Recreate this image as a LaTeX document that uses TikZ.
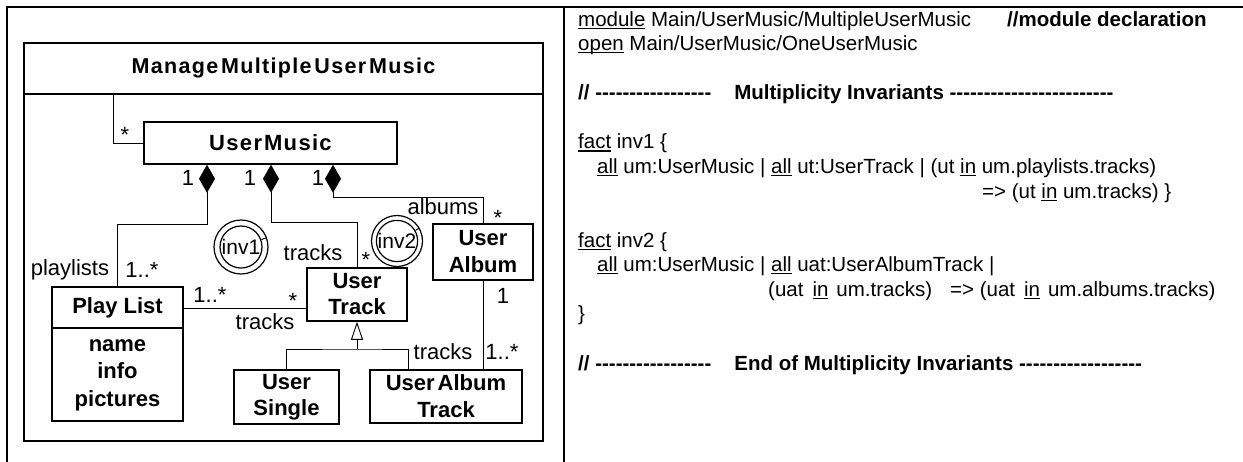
\documentclass[tikz,border=0pt]{standalone}
\usepackage{fontspec}
\setmainfont{Liberation Sans}
\newfontfamily\spacedfont[LetterSpace=6]{Liberation Sans}
\usetikzlibrary{arrows.meta}
\newcommand\undl[1]{\setbox0\hbox{#1}\rlap{\rule[-2.6pt]{\wd0}{1.1pt}}\box0\relax}
\newcommand\dashrow[1]{\foreach\k in {1,...,#1}{-\kern0pt}}
\newcommand\clsfont{\fontsize{22}{26}\selectfont\bfseries}
\newcommand\lblfont{\fontsize{22}{26}\selectfont}
\newcommand\codefont{\fontsize{20.5}{24.6}\selectfont}
\begin{document}
\begin{tikzpicture}[x=1pt,y=-1pt,
  frame/.style={line width=1.6pt},
  thickline/.style={line width=1.5pt},
  cls/.style={draw, line width=1.5pt, inner sep=0pt, align=center, font=\clsfont},
  lbl/.style={inner sep=0pt, font=\lblfont},
  conn/.style={line width=0.9pt},
  comp/.style={conn, -{Diamond[length=28pt,width=16pt]}},
  gen/.style={conn, -{Triangle[open,length=18pt,width=12pt]}},
  invo/.style={draw, circle, inner sep=0pt, line width=1.2pt},
  code/.style={inner sep=0pt, anchor=base west, font=\codefont},
  codeb/.style={inner sep=0pt, anchor=base west, font=\codefont\bfseries}]
\useasboundingbox (0,0) rectangle (1243,461);
% table frame
\draw[frame] (7,463) -- (7,7) -- (1245,7);
\draw[frame] (564,7) -- (564,463);
% package
\node[draw, thickline, minimum width=519, minimum height=398, inner sep=0pt] (pkg) at (283.5,242) {};
\coordinate (hdr) at (0,94);
\draw[thickline] (pkg.west |- hdr) -- (pkg.east |- hdr);
\node[inner sep=0pt, font=\spacedfont\fontsize{21.5}{26}\bfseries] (title) at (283.5,68) {Manage\kern3pt Multiple\kern3pt User\kern3pt Music};
% classes
\node[cls, minimum width=253, minimum height=42, font=\spacedfont\fontsize{22}{26}\bfseries] (um) at (270.5,143) {User\kern2pt Music};
\node[cls, minimum width=131, minimum height=134] (pl) at (117.5,354) {};
\node[inner sep=0pt, font=\clsfont] (plname) at (117.5,308) {Play List};
\node[inner sep=0pt, align=center, font=\fontsize{22}{27.5}\selectfont\bfseries] (platt) at (117.5,375) {name\\info\\pictures};
\coordinate (sepy) at (0,328);
\draw[thickline] (pl.west |- sepy) -- (pl.east |- sepy);
\node[cls, minimum width=100, minimum height=53] (ut) at (357,294.5) {User\\Track};
\node[cls, minimum width=100, minimum height=56, font=\fontsize{22}{27}\selectfont\bfseries] (ua) at (483,252) {User\\Album};
\node[cls, minimum width=105, minimum height=54] (us) at (286.5,397) {User\\Single};
\node[cls, minimum width=152, minimum height=53, font=\fontsize{22}{27}\selectfont\bfseries] (uat) at (446,396.5) {User\kern3pt Album\\Track};
% package link
\coordinate (pk1) at (113,94);
\draw[conn] (pk1) |- (um.west);
\node[lbl] (s0) at (125,135) {*};
% compositions
\coordinate (c1) at (207,224);
\coordinate (c2) at (271,222);
\coordinate (c3) at (333,197);
\draw[comp] (pl.north) |- (c1) -- (um.south -| c1);
\draw[comp] (ut.north) |- (c2) -- (um.south -| c2);
\draw[comp] (ua.north) |- (c3) -- (um.south -| c3);
\node[lbl] (m1) at (188,178) {1};
\node[lbl] (m2) at (250,178) {1};
\node[lbl] (m3) at (318,178) {1};
\node[lbl] (albl) at (443,207) {albums};
\node[lbl] (as) at (498,218) {*};
\node[lbl] (tl1) at (313,253) {tracks};
\node[lbl] (ts1) at (366,260) {*};
\node[lbl] (pll) at (70,270) {playlists};
\node[lbl] (plm) at (142,270) {1..*};
% association play list - track
\coordinate (pa) at (0,308);
\draw[conn] (pl.east |- pa) -- (ut.west |- pa);
\node[lbl] (am1) at (210,295) {1..*};
\node[lbl] (am2) at (293,301) {*};
\node[lbl] (al) at (265,322) {tracks};
% album - album track
\draw[conn] (ua.south) -- (ua.south |- uat.north);
\node[lbl] (ua1) at (503,296) {1};
\node[lbl] (ual) at (443,352) {tracks};
\node[lbl] (uam) at (502,352) {1..*};
% generalization
\coordinate (gj) at (357,349);
\coordinate (gx) at (408,0);
\draw[gen] (gj) -- (ut.south);
\draw[conn] (us.north) |- (gj) -| (uat.north -| gx);
% invariants
\node[invo, minimum size=54] (inv1o) at (241,247) {};
\node[invo, minimum size=42, font=\fontsize{21}{24}\selectfont] (inv1) at (241,247) {inv1};
\draw[conn] (inv1.20) -- (inv1o.20);
\node[invo, minimum size=51] (inv2o) at (397,241) {};
\node[invo, minimum size=39, font=\fontsize{21}{24}\selectfont] (inv2) at (397,241) {inv2};
\draw[conn] (inv2.30) -- (inv2o.30);
% code panel
\node[code] (l1) at (578,26) {\undl{module} Main/UserMusic/MultipleUserMusic};
\node[codeb] (l1b) at (1007,26) {//module declaration};
\node[code] (l2) at (578,50.6) {\undl{open} Main/UserMusic/OneUserMusic};
\node[codeb] (l4) at (578,99.7) {//\ \dashrow{17}\hspace{23pt}Multiplicity Invariants \dashrow{24}};
\node[code] (l6) at (578,148.9) {\undl{fact} inv1 \{};
\node[code] (l7) at (597,173.4) {\undl{all} um:UserMusic | \undl{all} ut:UserTrack | (ut \undl{in} um.playlists.tracks)};
\node[code] (l8) at (982,198) {=> (ut \undl{in} um.tracks) \}};
\node[code] (l10) at (578,247.1) {\undl{fact} inv2 \{};
\node[code] (l11) at (597,271.7) {\undl{all} um:UserMusic | \undl{all} uat:UserAlbumTrack |};
\node[code] (l12) at (768,296.3) {(uat\hspace{9pt}\undl{in}\hspace{8pt}um.tracks)\hspace{18pt}=> (uat\hspace{9pt}\undl{in}\hspace{8pt}um.albums.tracks)};
\node[code] (l13) at (578,320.8) {\}};
\node[codeb] (l15) at (578,370) {//\ \dashrow{17}\hspace{23pt}End of Multiplicity Invariants \dashrow{18}};
\end{tikzpicture}
\end{document}
